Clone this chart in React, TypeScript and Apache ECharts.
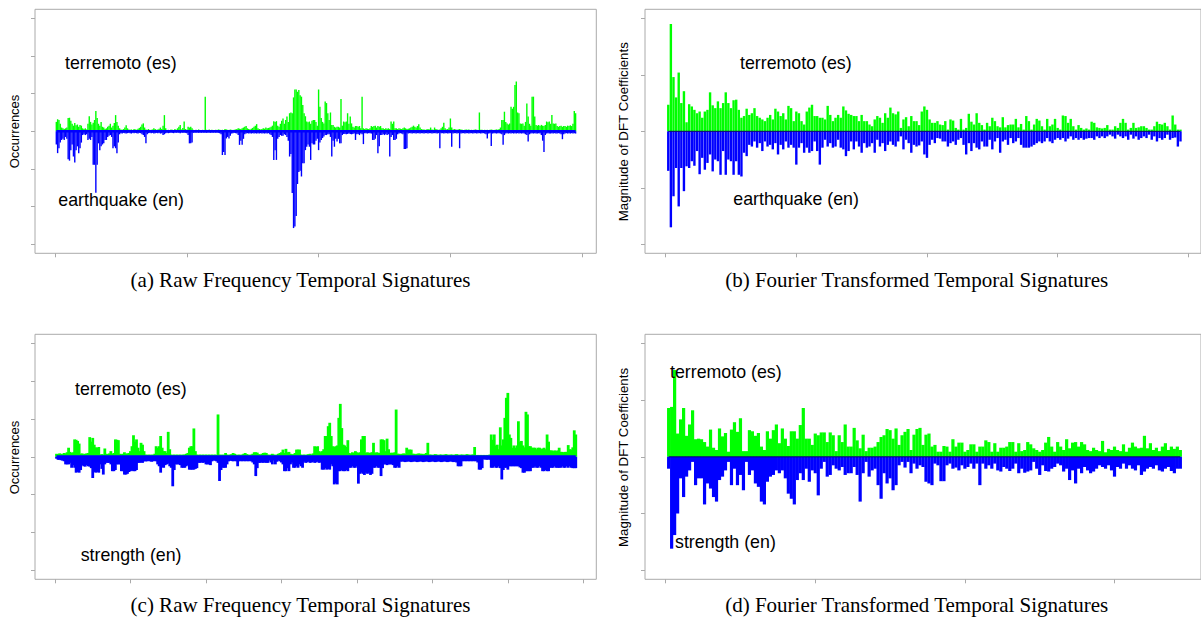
import React, { useEffect, useRef } from "react";
import * as echarts from "echarts";

// ---------- (a) raw frequency, terremoto (es) up / earthquake (en) down ----------
const greenA = [
  2.5,3.2,3.0,2.0,1.0,0.8,0.6,0.8,1.0,3.5,3.6,2.8,2.0,1.5,2.2,1.6,1.8,1.2,1.7,1.5,
  0.8,0.6,0.8,0.5,2.0,4.0,2.5,1.8,2.3,3.0,5.4,3.5,2.0,1.5,2.5,1.2,1.0,0.6,0.8,1.2,
  1.5,2.0,1.0,1.5,2.2,4.3,2.5,1.5,0.8,0.5,0.4,0.6,1.0,1.6,0.8,0.5,0.4,0.5,0.3,0.6,
  0.5,0.4,0.7,0.9,1.2,1.8,2.1,1.0,0.5,0.4,0.6,0.3,0.4,0.5,0.8,0.6,0.4,0.5,0.7,1.0,
  0.6,1.5,4.3,0.8,0.3,0.4,0.3,0.5,0.4,0.3,0.6,0.4,0.8,1.2,1.7,0.5,0.9,2.6,0.6,0.4,
  1.2,1.0,1.2,0.8,0.4,0.3,0.4,0.3,0.5,0.3,0.3,0.4,0.3,9.2,0.4,0.3,0.5,0.3,0.4,0.3,
  0.3,0.4,0.3,0.5,0.4,0.3,0.4,0.3,0.6,0.5,0.4,0.3,0.5,0.4,0.3,0.4,0.5,0.6,0.8,0.7,
  0.6,0.8,1.0,1.2,1.4,0.8,0.6,0.5,0.7,0.9,1.2,1.5,1.9,0.8,0.6,0.5,0.6,0.8,0.7,1.0,
  0.8,0.9,1.0,1.2,1.5,2.7,2.5,2.7,1.5,1.2,2.0,2.8,3.4,2.0,3.0,3.9,2.5,4.8,5.0,4.8,
  9.0,11.1,11.1,10.5,11.0,9.6,9.2,7.0,4.8,4.0,2.6,2.4,2.6,2.0,2.8,3.0,3.0,2.5,1.5,11.1,
  6.5,3.5,2.5,2.1,7.9,7.5,4.8,3.0,5.0,1.7,1.7,1.2,1.0,1.2,1.2,1.0,8.6,1.5,2.6,2.4,
  2.6,4.8,2.0,3.9,2.1,1.2,1.0,1.4,1.4,1.2,1.4,0.8,9.2,0.8,0.6,0.8,0.7,0.6,0.8,1.4,
  1.2,1.4,1.5,1.0,1.4,1.2,1.4,0.8,0.8,0.6,0.8,0.7,0.8,0.6,2.6,2.0,2.6,0.8,0.8,0.6,
  0.8,0.7,0.6,0.8,1.0,0.8,0.6,0.7,0.8,1.0,1.2,1.5,1.2,1.0,1.4,1.9,1.0,0.6,0.5,0.5,
  0.4,0.5,0.6,0.5,1.0,0.5,0.4,1.0,0.6,0.5,0.4,0.5,0.8,1.2,2.3,0.8,0.5,0.6,1.0,3.4,
  1.0,0.5,0.6,0.5,0.4,0.5,0.6,0.5,0.4,0.3,0.4,0.5,0.4,0.5,0.3,0.4,0.3,0.4,0.5,0.4,
  0.3,5.0,0.4,0.4,0.3,0.4,0.3,0.4,0.3,0.4,0.5,0.4,0.3,0.4,0.5,0.4,0.6,1.0,3.0,3.0,
  5.2,2.5,2.1,1.8,2.1,6.5,6.0,6.5,12.3,13.2,5.0,4.8,2.1,2.0,2.1,1.5,2.5,7.4,3.9,2.0,
  1.5,9.2,9.2,3.9,1.7,1.5,1.7,1.4,1.7,1.5,1.4,1.7,2.6,2.4,2.6,2.0,4.3,2.1,2.0,2.1,
  1.4,1.2,1.4,1.5,1.2,1.4,1.4,1.2,1.5,1.4,1.6,1.4,2.0,5.4,4.8,
];
const blueA = [
  3.5,5.8,4.5,3.0,2.3,2.0,2.3,1.5,2.0,7.4,7.8,5.0,3.5,6.7,8.3,5.0,4.0,5.8,4.5,3.0,
  1.0,0.8,1.0,0.8,2.3,2.0,2.3,1.5,8.9,8.9,16.3,8.9,3.2,5.0,4.0,3.5,3.2,2.3,2.3,1.5,
  1.2,1.0,1.5,4.5,4.0,4.5,5.8,3.0,0.8,0.5,0.6,0.4,0.5,0.6,0.5,0.4,0.5,0.6,0.4,0.5,
  0.4,0.5,0.6,0.4,0.5,0.8,1.0,1.5,3.2,0.8,0.5,0.4,0.5,0.4,0.6,0.5,0.4,0.5,0.4,0.6,
  0.5,1.0,0.8,0.5,0.4,0.5,0.4,0.3,0.4,0.5,0.3,0.4,0.3,0.4,0.5,0.3,0.4,0.3,0.4,0.5,
  1.0,3.2,3.2,3.0,0.4,0.3,0.4,0.3,0.4,0.3,0.4,0.3,0.4,0.3,0.4,0.3,0.3,0.4,0.3,0.4,
  0.3,0.4,0.3,0.4,0.5,0.8,6.3,5.5,6.3,1.9,1.5,1.9,1.2,0.6,0.5,0.4,0.5,0.6,1.0,3.6,
  2.5,3.6,2.0,0.8,0.6,0.5,0.6,0.5,0.6,0.5,0.6,0.5,0.6,0.5,0.6,0.5,0.6,0.5,0.6,0.5,
  0.6,0.5,0.8,1.0,1.5,7.6,5.0,7.6,2.0,1.5,1.0,1.2,1.2,0.8,1.0,1.5,2.5,6.7,6.0,16.4,
  25.7,25.3,22.5,14.0,10.8,10.5,12.0,8.5,8.5,5.0,4.1,3.5,4.1,7.6,3.2,3.5,3.5,2.5,2.0,5.0,
  3.0,2.3,1.8,1.4,1.0,1.0,0.8,0.8,1.5,6.7,2.5,4.1,2.0,2.7,2.0,3.2,3.2,1.0,0.7,0.7,
  0.8,0.7,0.6,0.7,0.8,0.7,0.6,2.3,0.8,0.7,1.0,0.6,0.8,3.4,0.5,0.5,0.6,0.5,0.5,0.6,
  2.3,2.3,2.0,1.0,5.8,4.0,1.0,1.0,0.8,1.0,0.8,1.0,0.8,6.7,1.5,1.0,2.3,2.3,2.0,0.8,
  0.6,0.5,0.6,0.8,4.7,4.7,4.5,0.6,0.5,0.5,0.6,0.5,0.5,0.6,0.5,0.5,0.6,0.5,0.5,0.6,
  0.5,0.5,0.6,0.5,0.5,0.6,0.5,0.5,0.5,0.6,0.5,4.5,0.5,0.5,0.6,0.5,0.5,0.6,0.5,0.5,
  4.1,0.6,0.5,0.5,0.6,0.5,4.5,0.6,0.5,0.5,0.6,0.5,0.5,0.6,0.5,0.5,0.6,0.5,0.5,0.6,
  0.5,0.5,0.6,0.5,0.5,0.6,0.8,1.9,0.6,0.5,3.9,0.6,0.5,0.5,0.6,0.5,0.5,0.6,0.8,3.6,
  1.0,0.6,0.5,0.6,0.5,0.6,0.5,0.6,0.5,0.6,0.5,0.6,0.5,0.6,0.5,0.6,0.8,1.0,2.7,0.8,
  0.6,0.5,0.6,0.5,0.6,0.6,0.5,0.6,1.0,2.5,5.5,1.0,0.6,0.5,0.6,0.6,0.5,0.6,0.5,0.6,
  0.6,0.5,0.6,0.8,2.1,0.8,0.6,0.5,0.6,0.5,0.6,0.5,0.6,0.5,0.6,
];

// ---------- (b) DFT magnitudes ----------
const greenB = [
  4.7,19.0,9.6,6.0,10.4,5.0,7.1,1.6,4.8,4.4,
  3.8,3.2,3.5,2.4,3.5,3.8,6.9,4.6,4.1,5.3,
  4.1,5.0,6.9,5.0,4.1,5.5,5.6,3.8,2.4,2.7,
  4.0,2.9,3.2,4.1,2.7,2.4,2.1,1.8,2.4,2.9,
  2.1,4.0,3.5,2.7,3.2,2.1,4.5,4.1,1.8,3.5,
  3.2,1.8,1.2,3.5,4.2,4.7,2.7,2.7,2.4,2.4,
  2.1,4.5,2.9,1.8,2.4,2.9,2.4,4.4,3.7,3.1,
  2.9,2.7,2.7,1.8,2.9,1.8,1.8,1.2,0.9,2.1,
  2.7,2.4,1.5,3.2,2.4,4.2,3.2,
  3.0,3.5,0.6,2.1,2.5,0.9,2.7,1.8,1.8,1.1,
  3.5,4.4,3.8,2.1,1.5,1.5,1.8,1.2,1.1,1.8,
  0.3,2.1,1.9,0.6,0.3,2.2,0.3,0.6,3.1,1.7,
  1.2,3.2,1.5,1.1,0.3,1.5,0.9,2.4,1.8,0.9,
  0.7,2.5,0.7,1.1,1.2,1.2,2.2,0.7,1.3,0.3,
  2.7,1.8,0.3,1.2,2.2,1.9,0.9,0.3,2.2,0.9,
  1.2,2.2,0.6,0.3,2.8,2.7,1.5,2.2,0.9,0.3,
  1.1,0.6,0.3,0.5,0.3,1.7,1.5,0.7,0.6,0.5,
  0.6,1.1,0.3,0.3,0.9,0.6,1.5,2.2,1.5,0.3,
  0.6,1.5,0.6,0.7,0.9,0.9,0.6,0.3,0.3,0.9,
  1.7,1.3,1.2,1.5,0.9,0.3,2.8,1.2,0.3,0.3,
];
const blueB = [
  7.0,17.0,11.5,6.5,13.3,6.5,10.6,6.2,6.5,5.3,
  6.1,3.5,7.6,4.7,6.8,5.6,4.1,7.1,5.0,5.3,
  7.7,3.5,7.7,5.0,5.3,7.7,5.3,7.7,8.0,3.8,
  4.4,2.4,2.7,1.8,2.9,2.1,3.5,1.8,2.7,2.4,
  3.2,2.1,4.1,2.4,3.2,1.8,2.9,2.4,2.9,5.9,
  2.9,2.1,3.8,2.9,3.8,3.5,1.8,3.5,5.9,2.9,
  1.5,2.7,2.1,2.9,2.7,1.5,2.9,3.2,4.4,3.5,
  1.8,3.2,1.8,2.7,3.8,2.1,2.9,2.7,2.1,3.8,
  1.5,2.7,2.1,3.5,2.4,1.8,2.4,
  2.7,1.8,0.9,3.2,1.5,2.1,3.8,2.4,2.7,2.5,
  1.8,4.1,4.7,2.4,1.5,2.1,1.2,1.3,1.8,1.8,
  2.7,2.1,1.8,2.4,1.5,1.2,2.4,4.1,2.1,3.5,
  2.1,2.9,3.2,1.8,2.7,2.7,1.5,3.2,1.8,1.2,
  3.8,1.8,1.5,2.4,1.2,2.1,1.8,1.2,2.4,2.9,
  2.9,2.9,2.7,2.4,2.1,1.8,2.1,1.8,1.2,1.8,
  2.1,1.5,1.2,1.5,1.2,1.8,1.3,0.9,1.5,1.2,
  1.5,1.2,1.5,1.3,1.2,1.2,1.5,0.9,1.2,0.9,
  1.2,0.9,0.6,0.9,1.3,0.6,0.9,1.2,0.9,1.5,
  0.6,1.3,0.9,1.5,1.2,0.9,1.2,0.6,1.5,0.9,
  1.8,1.2,1.5,1.2,0.6,1.5,1.2,1.1,2.7,1.8,
];

// ---------- (c) raw frequency, terremoto (es) up / strength (en) down ----------
const greenC = [
  0.8,0.7,0.9,0.8,0.7,1.0,0.9,1.2,2.4,1.3,
  1.0,1.2,4.6,4.5,4.2,3.5,0.8,0.9,0.7,0.8,
  0.9,1.0,5.2,4.0,5.0,3.2,2.5,2.4,2.6,0.6,
  0.7,0.6,2.2,0.8,0.7,0.9,1.5,0.8,1.0,4.6,
  4.5,4.4,0.8,0.7,0.8,1.2,0.8,0.9,1.0,1.5,
  2.8,5.7,4.0,4.6,2.4,1.5,3.7,3.2,1.5,0.6,
  0.5,0.6,0.5,0.6,0.5,0.8,2.8,2.4,2.8,5.5,
  2.4,1.5,1.5,1.0,6.6,2.0,0.6,0.5,0.6,0.5,
  0.6,0.5,0.6,0.5,0.6,0.6,0.8,1.0,2.4,2.8,
  2.8,7.5,1.5,0.6,0.5,0.6,0.5,0.6,0.5,0.6,
  0.5,0.6,0.5,0.6,0.5,0.6,0.5,11.2,0.6,0.5,
  0.6,0.5,1.0,0.6,0.5,0.6,0.7,1.0,0.8,0.6,
  0.5,0.6,0.5,0.6,0.8,1.0,0.7,0.6,0.5,0.6,
  0.8,1.2,1.2,1.1,0.7,0.6,0.8,1.0,1.1,1.0,
  0.6,0.5,0.6,0.8,0.6,0.5,0.6,0.8,1.0,1.2,
  1.9,1.0,2.1,1.2,1.3,0.8,0.6,0.7,1.0,1.9,
  1.9,1.9,0.6,0.5,0.6,0.5,0.6,0.7,0.8,0.6,
  0.9,2.8,2.6,2.8,1.5,1.2,1.5,2.0,5.5,5.5,
  8.1,9.0,5.5,2.8,2.6,2.8,3.0,10.3,14.0,7.6,
  3.2,3.0,2.6,4.4,1.0,0.8,1.2,1.0,1.5,1.2,
  1.0,1.2,4.6,5.5,5.5,1.0,1.2,1.0,1.1,1.2,
  3.7,1.0,1.2,1.1,1.0,4.6,4.6,4.4,1.5,4.8,
  2.0,1.0,1.1,1.0,1.2,12.5,0.8,0.8,0.7,0.8,
  0.9,0.8,2.4,1.9,1.9,1.9,0.8,0.8,0.7,0.8,
  0.9,0.8,0.8,0.7,0.8,1.0,3.7,0.6,0.6,0.5,
  0.6,0.7,0.6,0.5,0.6,0.6,0.5,0.6,0.7,0.6,
  0.5,0.6,0.6,0.5,0.6,0.7,0.6,0.5,0.6,0.6,
  0.5,0.6,0.7,0.6,0.5,0.6,0.6,2.6,0.4,0.5,
  0.4,0.5,0.4,0.5,0.4,0.5,0.4,0.6,5.9,4.5,
  5.9,3.0,3.2,2.0,7.8,3.0,4.6,10.3,15.6,16.9,
  5.9,5.0,2.4,3.0,2.4,3.0,9.4,4.0,4.2,3.0,
  2.5,11.9,11.2,2.8,2.8,2.4,2.4,2.4,2.0,2.4,
  2.4,2.0,2.2,2.4,2.0,5.9,4.0,1.7,1.7,1.5,
  1.7,1.5,1.7,2.4,1.3,1.3,1.2,1.3,1.3,3.1,
  2.0,1.9,2.5,7.0,5.9,
];
const blueC = [
  0.5,0.8,0.8,0.9,1.0,1.2,2.0,2.0,2.0,1.6,
  2.9,2.2,2.9,4.2,4.0,4.2,3.5,2.2,2.5,2.6,
  2.2,2.5,2.6,3.0,5.6,4.0,4.2,4.0,4.2,2.0,
  3.2,4.7,2.0,1.6,1.6,1.6,2.0,3.8,3.8,3.5,
  2.0,2.0,2.0,3.8,3.8,4.7,4.7,4.5,4.0,3.8,
  3.6,3.8,3.8,3.5,1.6,1.6,1.5,1.6,1.2,1.2,
  1.2,1.1,1.2,1.3,1.2,1.1,1.2,2.0,2.5,4.2,
  2.8,2.9,2.2,2.0,1.8,2.5,2.9,7.8,3.5,2.0,
  2.0,2.0,2.2,2.9,2.9,2.9,2.5,2.2,3.4,3.4,
  3.4,3.4,3.2,3.0,1.6,1.6,1.5,1.6,1.5,2.0,
  2.0,2.0,2.2,1.2,1.0,1.0,1.2,1.6,6.4,3.5,
  2.9,2.9,2.9,2.0,1.2,1.0,1.1,1.2,1.1,1.2,
  2.5,1.2,1.1,1.2,1.1,1.2,1.1,1.2,1.1,1.2,
  1.5,2.0,5.1,3.0,1.6,1.6,1.5,1.6,1.5,1.6,
  1.6,1.0,1.5,2.0,1.0,2.0,1.3,1.0,1.2,1.5,
  2.0,3.8,3.8,3.0,3.8,2.0,1.5,2.9,2.9,2.5,
  2.9,2.0,2.5,2.9,1.3,1.6,1.5,1.3,1.6,1.5,
  1.3,1.6,1.5,1.3,1.6,1.5,3.4,3.4,3.0,3.4,
  3.2,3.4,2.0,2.5,7.3,7.0,7.3,3.8,3.8,3.5,
  3.8,3.8,3.5,3.8,2.9,2.9,2.5,2.9,2.9,2.5,
  7.1,4.5,4.2,4.5,4.8,4.2,4.5,4.2,4.8,4.5,
  2.9,2.9,2.5,2.9,2.9,5.1,3.0,2.0,2.0,2.2,
  2.0,2.0,2.0,2.2,2.9,2.9,2.5,2.9,1.3,1.2,
  1.3,1.4,1.3,1.2,1.3,1.4,1.3,1.2,1.3,1.4,
  1.3,1.2,1.3,1.4,1.3,1.2,1.3,1.4,1.3,1.2,
  1.3,1.4,1.3,1.2,1.3,1.4,1.3,1.2,1.3,1.4,
  1.3,1.2,1.3,1.4,1.3,1.5,2.5,2.5,2.5,1.2,
  1.1,1.2,1.1,1.2,1.1,1.2,1.1,1.2,1.1,1.5,
  3.4,3.4,3.0,0.7,0.7,0.8,0.7,0.8,2.9,2.9,
  2.5,2.9,2.9,2.5,3.0,6.0,3.5,2.9,2.9,3.4,
  2.5,2.5,2.5,2.5,2.5,2.5,2.5,2.8,3.0,4.2,
  4.2,3.8,3.8,3.8,3.8,2.9,2.9,2.5,2.9,2.9,
  2.5,2.9,3.8,3.8,3.5,3.8,3.8,2.9,2.9,2.9,
  2.5,2.9,2.9,2.9,2.9,2.5,2.9,2.9,2.5,2.9,
  2.5,2.9,3.0,3.0,3.0,
];

// ---------- (d) DFT magnitudes ----------
const greenD = [
  8.6,8.8,15.3,4.1,6.6,8.6,3.7,5.7,8.2,3.1,
  3.2,3.1,2.6,1.8,4.8,1.6,1.2,5.0,3.6,4.2,
  0.9,4.8,6.1,4.4,6.8,1.0,1.0,4.7,4.5,3.7,
  4.2,1.8,1.2,4.5,3.2,4.7,5.7,2.4,5.0,3.2,
  1.9,4.5,4.5,3.2,5.6,8.6,3.2,3.2,2.1,4.1,
  3.8,4.3,4.3,2.6,4.3,3.8,1.0,3.8,2.6,5.7,
  1.8,1.8,5.1,2.9,1.5,3.9,1.0,1.6,1.6,1.8,
  2.6,3.5,3.8,4.9,4.7,3.2,5.0,
  2.1,3.8,4.4,4.9,1.2,3.9,4.9,5.1,2.1,3.9,
  4.1,1.8,2.1,0.9,0.9,1.9,1.8,0.9,3.1,1.8,
  2.5,2.5,0.9,1.2,2.2,2.2,0.9,1.8,1.8,2.9,
  2.6,0.9,2.4,0.9,1.6,1.6,1.8,2.6,2.6,0.9,
  2.4,1.0,1.2,2.6,2.2,1.5,1.2,0.9,1.2,2.5,
  3.5,1.8,0.9,2.6,1.8,1.2,3.1,1.5,2.5,2.6,
  1.8,2.6,2.2,1.2,1.0,1.6,1.2,1.0,2.8,0.8,
  1.4,1.2,1.8,1.2,1.0,2.2,0.9,1.6,2.5,1.8,
  1.5,1.6,3.7,1.5,2.4,1.2,1.6,1.0,1.8,2.4,
  1.2,1.8,1.4,1.8,1.2,
];
const blueD = [
  2.1,16.2,13.8,10.0,3.8,7.1,3.5,2.4,0.9,5.0,
  3.8,3.8,8.4,4.7,5.6,7.1,7.9,4.1,3.5,2.4,
  0.9,5.0,2.1,5.0,3.2,5.9,0.9,3.2,2.4,4.7,
  5.3,7.9,8.4,4.4,3.5,3.2,2.4,2.9,2.4,3.8,
  6.5,7.4,8.4,4.1,2.9,4.1,2.1,4.4,2.4,2.9,
  6.8,2.1,0.9,3.5,3.2,1.5,2.1,2.4,1.8,3.2,
  2.9,2.9,1.8,3.2,7.9,2.9,0.9,3.5,2.4,2.1,
  5.0,7.4,2.9,4.7,3.8,5.9,5.0,
  1.5,0.9,1.9,0.9,2.9,1.2,2.1,1.5,1.8,4.4,
  4.7,5.0,1.2,1.5,4.3,4.3,1.5,1.2,2.1,1.9,
  2.4,1.5,2.1,1.8,1.2,2.1,1.2,5.0,1.2,2.1,
  1.5,2.1,1.2,2.4,2.6,1.8,2.1,2.5,2.1,1.2,
  2.9,2.1,2.8,2.6,2.4,0.9,2.1,3.2,1.5,2.5,
  2.6,2.1,1.8,1.2,1.5,2.6,2.1,4.1,2.4,4.7,
  2.1,2.9,1.8,2.4,2.9,2.6,2.1,1.5,1.8,2.1,
  1.5,2.4,3.5,1.8,2.1,1.2,2.1,1.5,2.1,2.4,
  1.5,3.2,2.6,2.1,1.8,2.1,1.5,2.4,2.6,2.1,
  1.8,2.5,2.9,2.1,2.1,
];

// tick positions (axis units)
const xTicksA = [0, 100, 200, 300, 400];
const xTicksB = [0, 50, 100, 150, 200];
const xTicksC = [0, 50, 100, 150, 200, 250, 300, 350];
const xTicksD = [0, 50, 100, 150];
const yTicksRaw = [-30, -20, -10, 0, 10, 20, 30];
const yTicksDft = [-20, -10, 0, 10, 20];

const captions = [
  "(a) Raw Frequency Temporal Signatures",
  "(b) Fourier Transformed Temporal Signatures",
  "(c) Raw Frequency Temporal Signatures",
  "(d) Fourier Transformed Temporal Signatures",
];

const GREEN = "#00ff00";
const BLUE = "#0000ff";
const FRAME = "#aaaaaa";
const SANS = '"Liberation Sans", Arial, Helvetica, sans-serif';
const SERIF = '"Liberation Serif", "Times New Roman", Times, serif';

export default function App() {
  const ref = useRef<HTMLDivElement>(null);

  useEffect(() => {
    document.body.style.margin = "0";
    const chart = echarts.init(ref.current!, null, { renderer: "svg" });

    const panels = [
      { left: 35, top: 9.3, width: 561.3, height: 244, xMin: -15.17, xMax: 410.7, xTicks: xTicksA, yMax: 32.4, yTicks: yTicksRaw, green: greenA, blue: blueA, bw: 1.4, zeroColor: BLUE, zeroW: 2.5 },
      { left: 645, top: 9.3, width: 557, height: 244, xMin: -7.9, xMax: 204.85, xTicks: xTicksB, yMax: 21.6, yTicks: yTicksDft, green: greenB, blue: blueB, bw: 2.4, zeroColor: "#000060", zeroW: 1 },
      { left: 35, top: 334.3, width: 561.3, height: 245, xMin: -13.25, xMax: 358.6, xTicks: xTicksC, yMax: 32.4, yTicks: yTicksRaw, green: greenC, blue: blueC, bw: 2.8, zeroColor: BLUE, zeroW: 3 },
      { left: 645, top: 334.3, width: 557, height: 245, xMin: -6.9, xMax: 178.9, xTicks: xTicksD, yMax: 21.6, yTicks: yTicksDft, green: greenD, blue: blueD, bw: 3.2, zeroColor: "#000060", zeroW: 1 },
    ];

    const grid: any[] = [];
    const xAxis: any[] = [];
    const yAxis: any[] = [];
    const series: any[] = [];

    panels.forEach((p, k) => {
      grid.push({
        left: p.left, top: p.top, width: p.width, height: p.height,
        show: true, borderColor: FRAME, borderWidth: 1, backgroundColor: "transparent",
        containLabel: false,
      });
      xAxis.push({
        type: "value", gridIndex: k, min: p.xMin, max: p.xMax, position: "bottom",
        axisLine: { show: false, onZero: false },
        axisTick: { show: true, length: 4, inside: false, lineStyle: { color: FRAME }, customValues: p.xTicks },
        axisLabel: { show: false },
        splitLine: { show: false },
      });
      yAxis.push({
        type: "value", gridIndex: k, min: -p.yMax, max: p.yMax, position: "left",
        axisLine: { show: false, onZero: false },
        axisTick: { show: true, length: 4, inside: false, lineStyle: { color: FRAME }, customValues: p.yTicks },
        axisLabel: { show: false },
        splitLine: { show: false },
      });
      series.push({
        type: "bar", xAxisIndex: k, yAxisIndex: k, stack: "s" + k,
        barWidth: p.bw, itemStyle: { color: GREEN },
        data: p.green.map((v, i) => [i + 1, v]),
        silent: true,
      });
      series.push({
        type: "bar", xAxisIndex: k, yAxisIndex: k, stack: "s" + k,
        barWidth: p.bw, itemStyle: { color: BLUE },
        data: p.blue.map((v, i) => [i + 1, -v]),
        silent: true,
      });
      series.push({
        type: "line", xAxisIndex: k, yAxisIndex: k, showSymbol: false, silent: true,
        lineStyle: { color: p.zeroColor, width: p.zeroW },
        data: [[1, 0], [p.green.length, 0]],
        z: 3,
      });
    });

    const txt = (text: string, x: number, y: number, size: number, family: string, align: string, rotation = 0) => ({
      type: "text", x, y, rotation, z: 100,
      style: { text, fontSize: size, fontFamily: family, fill: "#000", align, verticalAlign: "middle" },
    });

    const graphic = [
      txt("Occurrences", 14, 131.5, 13, SANS, "center", Math.PI / 2),
      txt("Occurrences", 14, 457.5, 13, SANS, "center", Math.PI / 2),
      txt("Magnitude of DFT Coefficients", 623.5, 131.7, 13.3, SANS, "center", Math.PI / 2),
      txt("Magnitude of DFT Coefficients", 623.5, 457.5, 13.3, SANS, "center", Math.PI / 2),
      txt("terremoto (es)", 65, 63, 17.8, SANS, "left"),
      txt("earthquake (en)", 58.3, 200, 17.8, SANS, "left"),
      txt("terremoto (es)", 740, 63, 17.8, SANS, "left"),
      txt("earthquake (en)", 733.3, 199.3, 17.8, SANS, "left"),
      txt("terremoto (es)", 75, 389, 17.8, SANS, "left"),
      txt("strength (en)", 80.7, 555, 17.8, SANS, "left"),
      txt("terremoto (es)", 670, 371.7, 17.8, SANS, "left"),
      txt("strength (en)", 675, 541.7, 17.8, SANS, "left"),
      txt(captions[0], 300.5, 280, 21, SERIF, "center"),
      txt(captions[1], 916.7, 280, 21, SERIF, "center"),
      txt(captions[2], 300.5, 605, 21, SERIF, "center"),
      txt(captions[3], 916.7, 605, 21, SERIF, "center"),
    ];

    chart.setOption({
      animation: false,
      backgroundColor: "#ffffff",
      grid, xAxis, yAxis, series, graphic,
    });

    return () => chart.dispose();
  }, []);

  return <div ref={ref} style={{ width: 1201, height: 622 }} />;
}
